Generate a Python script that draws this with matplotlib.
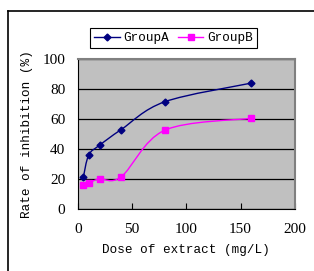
import matplotlib.pyplot as plt
from matplotlib.path import Path
from matplotlib.patches import PathPatch
from matplotlib.lines import Line2D
import numpy as np

dose = [5, 10, 20, 40, 80, 160]
group_a = [21, 36, 42.5, 53, 71.5, 84]
group_b = [16, 17.5, 20, 21.5, 52.5, 60.5]

mono = 'Liberation Mono'
serif = 'Liberation Serif'


# smoothed line like excel: catmull-rom as cubic bezier path
def smooth_path(x, y):
    pts = np.column_stack([x, y]).astype(float)
    verts = [pts[0]]
    codes = [Path.MOVETO]
    n = len(pts)
    for i in range(n - 1):
        p0 = pts[max(i - 1, 0)]
        p1 = pts[i]
        p2 = pts[i + 1]
        p3 = pts[min(i + 2, n - 1)]
        c1 = p1 + (p2 - p0) / 6.0
        c2 = p2 - (p3 - p1) / 6.0
        verts += [c1, c2, p2]
        codes += [Path.CURVE4] * 3
    return Path(verts, codes)


fig = plt.figure(figsize=(3.14, 2.71), dpi=100)
ax = fig.add_axes([0.248, 0.229, 0.691, 0.553])
ax.set_facecolor('#c0c0c0')

for ys, col, mk, ms in [(group_a, '#000080', 'D', 3.5), (group_b, '#ff00ff', 's', 4.5)]:
    ax.add_patch(PathPatch(smooth_path(dose, ys), fc='none', ec=col, lw=1.0, zorder=3))
    ax.plot(dose, ys, ls='none', marker=mk, color=col, ms=ms, zorder=4)

ax.set_xlim(0, 200)
ax.set_ylim(0, 100)
ax.set_xticks([0, 50, 100, 150, 200])
ax.set_yticks([0, 20, 40, 60, 80, 100])
ax.yaxis.grid(True, color='black', lw=0.9)
ax.set_axisbelow(True)
ax.tick_params(axis='x', direction='in', length=4, pad=10, color='black')
ax.tick_params(axis='y', length=0, pad=9)
for lab in ax.get_xticklabels() + ax.get_yticklabels():
    lab.set_fontfamily(serif)
    lab.set_fontsize(11)
ax.spines['left'].set_color('black')
ax.spines['bottom'].set_color('black')
ax.spines['top'].set_color('#808080')
ax.spines['right'].set_color('#808080')
ax.spines['top'].set_linewidth(1.5)
ax.spines['right'].set_linewidth(1.5)

ax.set_xlabel('Dose of extract (mg/L)', family=mono, fontsize=9.1, labelpad=6)
ax.set_ylabel('Rate of inhibition (%)', family=mono, fontsize=9.1, labelpad=7)

handles = [Line2D([], [], color='#000080', marker='D', ms=3.5, lw=1.0),
           Line2D([], [], color='#ff00ff', marker='s', ms=4.5, lw=1.0)]
leg = fig.legend(handles, ['GroupA', 'GroupB'], loc='center', bbox_to_anchor=(0.553, 0.86),
                 ncol=2, frameon=True, fancybox=False, edgecolor='black', framealpha=1,
                 prop={'family': mono, 'size': 9.1}, handlelength=2.0, handletextpad=0.3,
                 columnspacing=0.7, borderpad=0.35)
leg.get_frame().set_linewidth(0.8)

# outer chart frame (only left and top are in view)
fig.add_artist(Line2D([8 / 314, 8 / 314], [0, 1 - 11 / 271], color='black', lw=1.2, transform=fig.transFigure))
fig.add_artist(Line2D([8 / 314, 1], [1 - 11 / 271, 1 - 11 / 271], color='black', lw=1.2, transform=fig.transFigure))

fig.savefig('out.png', dpi=100)
